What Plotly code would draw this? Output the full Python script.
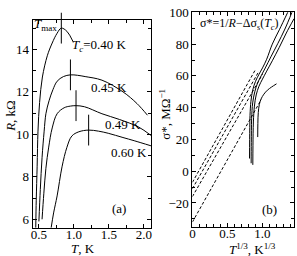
import plotly.graph_objects as go

# ---------------- data: panel (a) R(T) ----------------
T1 = [0.455, 0.462, 0.475, 0.487, 0.51, 0.55, 0.62, 0.69, 0.76, 0.82, 0.90, 0.99]
R1 = [5.6, 6.9, 8.5, 10.15, 11.5, 12.7, 13.7, 14.3, 14.76, 15.0, 14.85, 14.35]
T2 = [0.50, 0.52, 0.545, 0.575, 0.60, 0.645, 0.70, 0.76, 0.85, 0.95, 1.05, 1.16, 1.40, 1.70, 1.90, 2.05]
R2 = [5.9, 7.4, 8.9, 10.15, 10.97, 11.58, 12.1, 12.5, 12.72, 12.8, 12.78, 12.72, 12.55, 12.0, 11.45, 10.9]
T3 = [0.545, 0.57, 0.60, 0.64, 0.69, 0.76, 0.86, 0.95, 1.03, 1.15, 1.40, 1.65, 1.92, 2.1]
R3 = [6.0, 7.2, 8.4, 9.4, 10.3, 10.97, 11.25, 11.33, 11.35, 11.3, 10.97, 10.7, 10.35, 9.95]
T4 = [0.675, 0.71, 0.76, 0.83, 0.90, 0.97, 1.07, 1.21, 1.35, 1.49, 1.70, 1.86, 2.1]
R4 = [5.6, 6.3, 7.1, 8.47, 9.39, 9.92, 10.12, 10.2, 10.15, 10.05, 9.85, 9.7, 9.46]
Tmax = [0.82, 0.95, 1.03, 1.21]
Rmax = [15.0, 12.8, 11.35, 10.2]
curve_labels = ["<i>T</i><sub><i>c</i></sub>=0.40 K", "0.45 K", "0.49 K", "0.60 K"]
label_T = [1.36, 1.50, 1.70, 1.78]
label_R = [14.17, 12.2, 10.45, 9.15]

# ---------------- data: panel (b) sigma*(T^1/3) ----------------
Xa = [0.815, 0.817, 0.822, 0.835, 0.86, 0.90, 0.95, 1.00, 1.06, 1.14, 1.24, 1.36]
Ya = [8, 20, 35, 44, 51, 56.5, 61, 65, 70.5, 80, 89, 100]
Xb = [0.838, 0.84, 0.845, 0.86, 0.89, 0.93, 0.98, 1.04, 1.12, 1.22, 1.32, 1.42]
Yb = [5, 18, 33, 43, 50, 55.5, 60, 65, 72, 80.5, 89.5, 100]
Xc = [0.862, 0.864, 0.87, 0.885, 0.91, 0.95, 1.00, 1.06, 1.14, 1.24, 1.34, 1.45]
Yc = [4, 16, 31, 41, 48, 53.5, 58, 63, 69.5, 78, 87, 96]
Xd = [0.932, 0.934, 0.94, 0.955, 0.98, 1.02, 1.07, 1.13, 1.20]
Yd = [21.5, 30, 37, 42, 45.5, 48.5, 51, 53, 55]
# dashed extrapolations: (x0, y0) -> (x1, y1)
dash_x = [[0, 0.90], [0, 0.95], [0, 1.00], [0, 0.98]]
dash_y = [[-7, 64], [-11, 63], [-16, 61], [-32, 45]]

ticks_a_x = [0.5, 1.0, 1.5, 2.0]
ticks_a_x_txt = ["0.5", "1.0", "1.5", "2.0"]
ticks_a_y = [6, 8, 10, 12, 14]
ticks_b_x = [0, 0.5, 1.0]
ticks_b_x_txt = ["0", "0.5", "1.0"]
ticks_b_y = [-20, 0, 20, 40, 60, 80, 100]
ticks_b_y_txt = ["−20", "0", "20", "40", "60", "80", "100"]

W, H = 297, 256
FONT = "Liberation Serif"
line = dict(color="black", width=1)

fig = go.Figure()
for T, R in [(T1, R1), (T2, R2), (T3, R3), (T4, R4)]:
    fig.add_trace(go.Scatter(x=T, y=R, mode="lines", line_shape="spline",
                             line=line, xaxis="x", yaxis="y", hoverinfo="skip"))
fig.add_trace(go.Scatter(x=Tmax, y=Rmax, mode="markers", cliponaxis=False,
                         marker=dict(symbol="line-ns", size=22,
                                     line=dict(width=1, color="black")),
                         xaxis="x", yaxis="y", hoverinfo="skip"))
for X, Y in [(Xa, Ya), (Xb, Yb), (Xc, Yc), (Xd, Yd)]:
    fig.add_trace(go.Scatter(x=X, y=Y, mode="lines", line_shape="spline",
                             line=line, xaxis="x2", yaxis="y2", hoverinfo="skip"))
for X, Y in zip(dash_x, dash_y):
    fig.add_trace(go.Scatter(x=X, y=Y, mode="lines",
                             line=dict(color="black", width=1, dash="3px,2px"),
                             xaxis="x2", yaxis="y2", hoverinfo="skip"))

tfont = dict(family=FONT, size=13, color="black")
ax_common = dict(showline=True, linecolor="black", linewidth=1, mirror="allticks",
                 ticks="inside", ticklen=4, tickcolor="black", tickwidth=1,
                 showgrid=False, zeroline=False, tickfont=tfont,
                 ticklabeloverflow="allow")

def px2x(px):
    return px / W

def py2y(py):
    return 1 - py / H

fig.update_layout(
    width=W, height=H, margin=dict(l=0, r=0, t=0, b=0),
    font=dict(family=FONT, size=13, color="black"),
    paper_bgcolor="white", plot_bgcolor="white", showlegend=False,
    xaxis=dict(domain=[px2x(30), px2x(150)], range=[0.41, 2.1],
               tickvals=ticks_a_x, ticktext=ticks_a_x_txt, ticklabelstandoff=-5,
               minor=dict(dtick=0.25, tick0=0, ticks="inside", ticklen=3, tickcolor="black"),
               anchor="y", **ax_common),
    yaxis=dict(domain=[py2y(227), py2y(13)], range=[5.6, 15.4],
               tickvals=ticks_a_y,
               minor=dict(dtick=1, tick0=0, ticks="inside", ticklen=3, tickcolor="black"),
               anchor="x", **ax_common),
    xaxis2=dict(domain=[px2x(192), px2x(295)], range=[0, 1.45],
                tickvals=ticks_b_x, ticktext=ticks_b_x_txt, ticklabelstandoff=-5,
                minor=dict(dtick=0.1, tick0=0, ticks="inside", ticklen=3, tickcolor="black"),
                anchor="y2", **ax_common),
    yaxis2=dict(domain=[py2y(226), py2y(5)], range=[-35, 100.3],
                tickvals=ticks_b_y, ticktext=ticks_b_y_txt,
                minor=dict(dtick=10, tick0=0, ticks="inside", ticklen=3, tickcolor="black"),
                anchor="x2", **ax_common),
)

fnt = dict(family=FONT, size=13, color="black")
C = dict(showarrow=False, xanchor="center", yanchor="middle", font=fnt)
ann = []
for txt, tx, ty in zip(curve_labels, label_T, label_R):
    ann.append(dict(x=tx, y=ty, xref="x", yref="y", text=txt, **C))
ann += [
    dict(x=0.593, y=15.17, xref="x", yref="y", text="<i>T</i><sub>max</sub>", **C),
    dict(x=1.65, y=6.5, xref="x", yref="y", text="(a)", **C),
    dict(x=1.10, y=-24, xref="x2", yref="y2", text="(b)", **C),
    dict(x=px2x(240), y=py2y(17), xref="paper", yref="paper",
         text="σ*=1/<i>R</i>−Δσ<sub>s</sub>(<i>T</i><sub><i>c</i></sub>)",
         showarrow=False, xanchor="center", yanchor="middle",
         font=dict(family=FONT, size=12, color="black")),
    dict(x=px2x(8), y=py2y(112), xref="paper", yref="paper", text="<i>R</i>, kΩ",
         textangle=-90, **C),
    dict(x=px2x(164), y=py2y(110), xref="paper", yref="paper",
         text="σ*, MΩ<sup>−1</sup>", textangle=-90, **C),
    dict(x=px2x(81), y=py2y(248), xref="paper", yref="paper", text="<i>T</i>, K", **C),
    dict(x=px2x(253), y=py2y(249), xref="paper", yref="paper",
         text="<i>T</i><sup>1/3</sup>, K<sup>1/3</sup>", **C),
]
fig.update_layout(annotations=ann)

fig.write_html("out.html",
               config={"displayModeBar": False, "staticPlot": True},
               post_script="document.body.style.margin='0';document.body.style.padding='0';")
